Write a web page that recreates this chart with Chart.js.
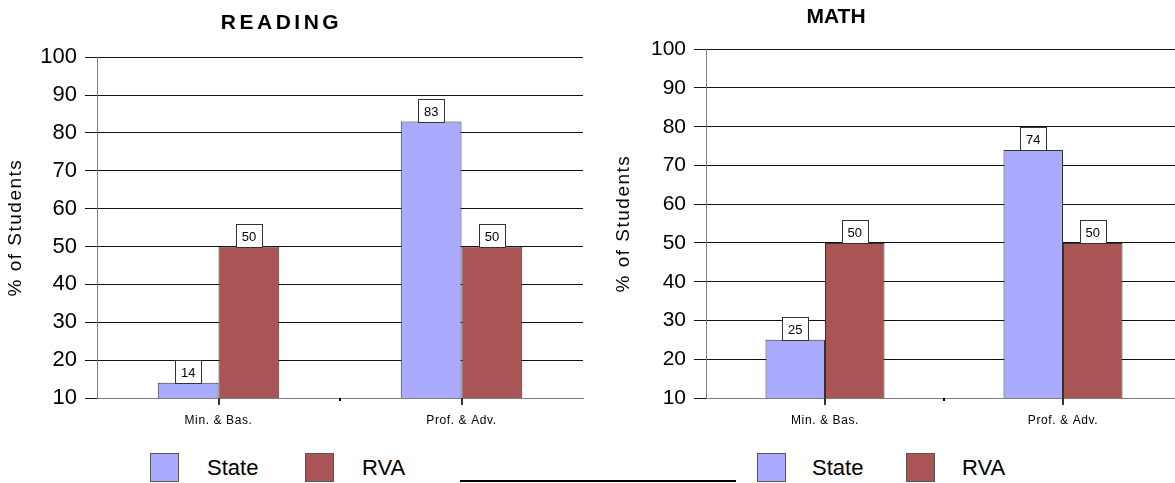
<!DOCTYPE html>
<html>
<head>
<meta charset="utf-8">
<title>Reading and Math Performance</title>
<script src="https://cdn.jsdelivr.net/npm/chart.js@4.4.0/dist/chart.umd.min.js"></script>
<style>
  html, body {
    margin: 0;
    padding: 0;
    background: #fff;
    width: 1175px;
    height: 483px;
    overflow: hidden;
    position: relative;
    font-family: "Liberation Sans", Arial, sans-serif;
  }
  canvas { position: absolute; top: 0; }
  #readingChart { left: -20px; }
  #mathChart { left: 490px; }
  .legend-item { position: absolute; top: 453px; height: 28px; }
  .legend-box {
    position: absolute; top: 0; left: 0;
    width: 27px; height: 27px;
    border: 1px solid #555;
  }
  .legend-text {
    position: absolute; top: 1px;
    font-size: 22px; line-height: 28px; color: #000; white-space: nowrap;
  }
  #rule {
    position: absolute; left: 460px; top: 480px;
    width: 276px; height: 0;
    border-top: 2px solid #000;
  }
</style>
</head>
<body>
<canvas id="readingChart" width="610" height="440"></canvas>
<canvas id="mathChart" width="700" height="440"></canvas>
<div id="legendReading"></div>
<div id="legendMath"></div>
<div id="rule"></div>

<script>
// Performance categories and series
const categories = ['Min. & Bas.', 'Prof. & Adv.'];
const seriesNames = ['State', 'RVA'];
const seriesColors = ['#AAAAFF', '#AA5555'];

// Reading results (% of students)
const readingState = [14, 83];
const readingRVA = [50, 50];

// Math results (% of students)
const mathState = [25, 74];
const mathRVA = [50, 50];

// Value axis
const yMin = 10;
const yMax = 100;
const yStep = 10;
const yTitle = '% of Students';

const FONT = '"Liberation Sans", Arial, sans-serif';

// Boxed value labels sitting on top of each bar, the tick marks under
// each category and the small boundary mark between the two categories
const valueBoxes = {
  id: 'valueBoxes',
  afterDatasetsDraw(chart) {
    const ctx = chart.ctx;
    const xs = chart.scales.x;
    const bottom = Math.round(chart.chartArea.bottom);
    ctx.save();
    ctx.font = '13px ' + FONT;
    chart.data.datasets.forEach((ds, i) => {
      chart.getDatasetMeta(i).data.forEach((bar, j) => {
        const txt = String(ds.data[j]);
        const w = Math.round(ctx.measureText(txt).width + 12);
        const h = 23;
        const x = Math.round(bar.x - w / 2) + 0.5;
        const y = Math.round(bar.y) - h + 0.5;
        ctx.fillStyle = '#fff';
        ctx.fillRect(x, y, w, h);
        ctx.strokeStyle = '#333';
        ctx.lineWidth = 1;
        ctx.strokeRect(x, y, w, h);
        ctx.fillStyle = '#000';
        ctx.textAlign = 'center';
        ctx.textBaseline = 'middle';
        ctx.fillText(txt, bar.x, y + h / 2 + 1);
      });
    });
    ctx.fillStyle = '#333';
    categories.forEach((c, i) => {
      const px = Math.round(xs.getPixelForValue(i));
      ctx.fillRect(px - 1, bottom, 2, 7);
    });
    const mid = (xs.getPixelForValue(0) + xs.getPixelForValue(1)) / 2;
    ctx.fillStyle = '#000';
    ctx.fillRect(Math.round(mid) - 1, bottom, 2, 3);
    ctx.restore();
  }
};

// Letter spacing for the chart title, the axis title and the category labels
const spacedText = {
  id: 'spacedText',
  afterLayout(chart, args, opts) {
    const wrap = (obj, key, spacing) => {
      if (!obj || !spacing || obj['__spaced_' + key]) return;
      const orig = obj[key];
      obj[key] = function (...a) {
        const ctx = chart.ctx;
        const prev = ctx.letterSpacing;
        ctx.letterSpacing = spacing;
        try { return orig.apply(this, a); } finally { ctx.letterSpacing = prev; }
      };
      obj['__spaced_' + key] = true;
    };
    wrap(chart.titleBlock, 'draw', opts.title);
    wrap(chart.scales.y, 'drawTitle', opts.axisTitle);
    wrap(chart.scales.x, 'drawLabels', opts.xLabels);
  }
};

function makeChart(id, title, stateVals, rvaVals, geo) {
  return new Chart(document.getElementById(id), {
    type: 'bar',
    data: {
      labels: categories,
      datasets: [
        { label: seriesNames[0], data: stateVals, backgroundColor: seriesColors[0],
          borderColor: '#333', borderWidth: 1 },
        { label: seriesNames[1], data: rvaVals, backgroundColor: seriesColors[1],
          borderColor: '#333', borderWidth: 1 }
      ]
    },
    options: {
      responsive: false,
      devicePixelRatio: 1,
      animation: false,
      categoryPercentage: 0.5,
      barPercentage: 1.0,
      layout: { padding: { left: 0, right: geo.padRight, top: 0, bottom: 0 } },
      plugins: {
        legend: { display: false },
        tooltip: { enabled: false },
        title: {
          display: true,
          text: title,
          color: '#000',
          font: { family: FONT, size: 21, weight: 'bold', lineHeight: 1.2 },
          padding: { top: geo.titleTop, bottom: geo.titleBottom }
        },
        spacedText: { title: geo.titleSpacing, axisTitle: '1.5px', xLabels: '0.6px' }
      },
      scales: {
        x: {
          offset: true,
          grid: { display: false },
          border: { display: true, color: '#808080', width: 1 },
          ticks: { color: '#000', font: { family: FONT, size: 12 }, padding: 7, maxRotation: 0 },
          afterFit: s => { s.height = 42; }
        },
        y: {
          min: yMin,
          max: yMax,
          ticks: { stepSize: yStep, color: '#000', font: { family: FONT, size: geo.tickSize }, padding: 8 },
          grid: { color: '#111', lineWidth: 1, tickLength: 12 },
          border: { display: true, color: '#808080', width: 1 },
          title: {
            display: true,
            text: yTitle,
            color: '#000',
            font: { family: FONT, size: 19, lineHeight: 1.2 },
            padding: { top: geo.yTitlePad, bottom: 0 }
          },
          afterFit: s => { s.width = geo.yWidth; }
        }
      }
    },
    plugins: [valueBoxes, spacedText]
  });
}

const readingChart = makeChart('readingChart', 'READING', readingState, readingRVA,
  { padRight: 7, yWidth: 117, yTitlePad: 24, titleTop: 11, titleBottom: 21, tickSize: 22, titleSpacing: '3.5px' });
const mathChart = makeChart('mathChart', 'MATH', mathState, mathRVA,
  { padRight: 8, yWidth: 216, yTitlePad: 122, titleTop: 5, titleBottom: 19, tickSize: 21, titleSpacing: '0px' });

// HTML legends built from the chart datasets
function buildLegend(containerId, chart, spots) {
  const box = document.getElementById(containerId);
  chart.data.datasets.forEach((ds, i) => {
    const item = document.createElement('div');
    item.className = 'legend-item';
    item.style.left = spots[i].box + 'px';
    const sw = document.createElement('div');
    sw.className = 'legend-box';
    sw.style.background = ds.backgroundColor;
    const tx = document.createElement('div');
    tx.className = 'legend-text';
    tx.style.left = (spots[i].text - spots[i].box) + 'px';
    tx.textContent = ds.label;
    item.appendChild(sw);
    item.appendChild(tx);
    box.appendChild(item);
  });
}
buildLegend('legendReading', readingChart, [{ box: 150, text: 207 }, { box: 305, text: 362 }]);
buildLegend('legendMath', mathChart, [{ box: 757, text: 812 }, { box: 906, text: 962 }]);
</script>
</body>
</html>
